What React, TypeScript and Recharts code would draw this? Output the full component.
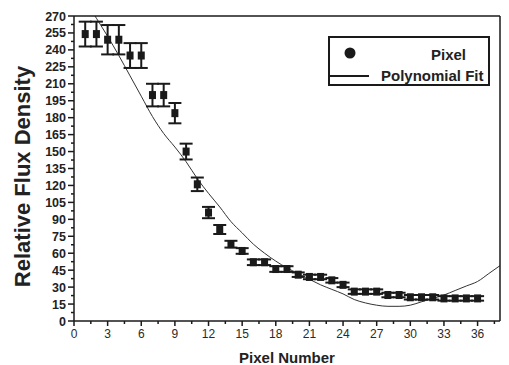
import { ComposedChart, ErrorBar, Legend, Line, Scatter, XAxis, YAxis } from 'recharts';

const pixelNumbers = [
  1, 2, 3, 4, 5, 6, 7, 8, 9, 10, 11, 12, 13, 14, 15, 16, 17, 18,
  19, 20, 21, 22, 23, 24, 25, 26, 27, 28, 29, 30, 31, 32, 33, 34, 35, 36,
];
const fluxValues = [
  254, 254, 249, 249, 235, 235, 200, 200, 184, 150, 121, 96, 81, 68, 62, 52, 52, 46,
  46, 41, 39, 39, 36, 32, 26, 26, 26, 23, 23, 21, 21, 21, 20, 20, 20, 20,
];
const fluxErrors = [
  11, 11, 13, 13, 11, 11, 10, 10, 9, 7, 6, 5, 4, 3, 2.5, 2.5, 2.5, 2.5,
  2.5, 2, 2, 2, 2, 2, 2, 2, 2, 2, 2, 2, 2, 2, 2, 2, 2, 2,
];
const fitPixels = [
  1, 2, 3, 4, 5, 6, 7, 8, 9, 10, 11, 12, 13, 14, 15, 16, 17, 18, 19,
  20, 21, 22, 23, 24, 25, 26, 27, 28, 29, 30, 31, 32, 33, 34, 35, 36, 37, 38,
];
const fitValues = [
  284, 268, 252, 235, 217, 199, 181, 166, 154, 141, 126, 113, 101, 88, 78, 68, 60, 53, 47,
  42, 37, 32, 28, 24, 19, 16, 14, 13, 13, 14, 17, 20, 23, 27, 31, 35, 42, 49,
];
const xTickLabels = [0, 3, 6, 9, 12, 15, 18, 21, 24, 27, 30, 33, 36, 39];
const yTickLabels = [0, 15, 30, 45, 60, 75, 90, 105, 120, 135, 150, 165, 180, 195, 210, 225, 240, 255, 270];

const pixelData = pixelNumbers.map((x, i) => ({ x, y: fluxValues[i], err: fluxErrors[i] }));
const fitData = fitPixels.map((x, i) => ({ x, fit: fitValues[i] }));

// major ticks plus a minor tick halfway between each pair
const withMinor = (major: number[]) => {
  const out: number[] = [];
  major.forEach((v, i) => {
    out.push(v);
    if (i < major.length - 1) out.push((v + major[i + 1]) / 2);
  });
  return out;
};
const xTicks = withMinor(xTickLabels);
const yTicks = withMinor(yTickLabels);

const INK = '#1a1a1a';
const FONT = '"Liberation Sans", Arial, sans-serif';

const isMajorX = (v: number) => xTickLabels.includes(v);
const isMajorY = (v: number) => yTickLabels.includes(v);

const BottomTick = ({ x, y, payload }: any) => {
  const major = isMajorX(payload.value);
  return (
    <g>
      <line x1={x} x2={x} y1={y} y2={y + (major ? 5 : 3)} stroke={INK} strokeWidth={1.5} />
      {major && (
        <text x={x} y={y + 17} textAnchor="middle" fontSize={12} fill="#2a2a2a" stroke="none" fontFamily={FONT}>
          {String(payload.value)}
        </text>
      )}
    </g>
  );
};

const TopTick = ({ x, y, payload }: any) => {
  const major = isMajorX(payload.value);
  return <line x1={x} x2={x} y1={y} y2={y + (major ? 4 : 2.5)} stroke={INK} strokeWidth={1.5} />;
};

const LeftTick = ({ x, y, payload }: any) => {
  const major = isMajorY(payload.value);
  return (
    <g>
      <line x1={x - (major ? 6 : 3)} x2={x} y1={y} y2={y} stroke={INK} strokeWidth={1.5} />
      {major && (
        <text x={x - 8} y={y + 4.5} textAnchor="end" fontSize={12.5} fontWeight="bold" fill="#222" stroke="none" fontFamily={FONT}>
          {String(payload.value)}
        </text>
      )}
    </g>
  );
};

const RightTick = ({ x, y, payload }: any) => {
  const major = isMajorY(payload.value);
  return <line x1={x} x2={x + (major ? 5 : 3)} y1={y} y2={y} stroke={INK} strokeWidth={1.5} />;
};

const YLabel = ({ viewBox }: any) => {
  const cx = viewBox.x + 14;
  const cy = viewBox.y + viewBox.height / 2 + 8;
  return (
    <text
      x={cx}
      y={cy}
      transform={`rotate(-90, ${cx}, ${cy})`}
      textAnchor="middle"
      dominantBaseline="central"
      fontSize={22}
      fontWeight="bold"
      fill="#222"
      fontFamily={FONT}
    >
      Relative Flux Density
    </text>
  );
};

const XLabel = ({ viewBox }: any) => (
  <text
    x={viewBox.x + viewBox.width / 2}
    y={viewBox.y + 42}
    textAnchor="middle"
    fontSize={15}
    fontWeight="bold"
    fill="#222"
    fontFamily={FONT}
  >
    Pixel Number
  </text>
);

const LegendBox = () => (
  <div
    style={{
      width: 158,
      height: 46,
      border: `2px solid ${INK}`,
      background: '#fff',
      position: 'relative',
      fontFamily: FONT,
      fontWeight: 'bold',
      fontSize: 15,
      color: '#222',
    }}
  >
    <svg width={158} height={46} style={{ position: 'absolute', left: 0, top: 0 }}>
      <circle cx={20} cy={15} r={5.5} fill={INK} />
      <line x1={0} x2={39} y1={38} y2={38} stroke={INK} strokeWidth={2} />
    </svg>
    <span style={{ position: 'absolute', left: 101, top: 8 }}>Pixel</span>
    <span style={{ position: 'absolute', left: 51, top: 29 }}>Polynomial Fit</span>
  </div>
);

const Square = ({ cx, cy }: any) => <rect x={cx - 3.5} y={cy - 4} width={7} height={8} fill={INK} />;

export default function App() {
  return (
    <ComposedChart
      width={501}
      height={357}
      margin={{ top: 7, right: 8, bottom: 0, left: 0 }}
      style={{ fontFamily: FONT, background: '#fff' }}
    >
      <XAxis
        xAxisId="bottom"
        type="number"
        dataKey="x"
        domain={[0, 38]}
        ticks={xTicks}
        interval={0}
        tickSize={0}
        tickMargin={0}
        tick={<BottomTick />}
        tickLine={false}
        axisLine={{ stroke: INK, strokeWidth: 1.5 }}
        height={44}
        label={<XLabel />}
      />
      <XAxis
        xAxisId="top"
        orientation="top"
        type="number"
        dataKey="x"
        domain={[0, 38]}
        ticks={xTicks}
        interval={0}
        tickSize={0}
        tickMargin={0}
        tick={<TopTick />}
        tickLine={false}
        axisLine={{ stroke: INK, strokeWidth: 1.5 }}
        height={1}
      />
      <YAxis
        yAxisId="left"
        type="number"
        domain={[0, 270]}
        allowDataOverflow
        ticks={yTicks}
        interval={0}
        tickSize={0}
        tickMargin={0}
        tick={<LeftTick />}
        tickLine={false}
        axisLine={{ stroke: INK, strokeWidth: 1.5 }}
        width={66}
        label={<YLabel />}
      />
      <YAxis
        yAxisId="right"
        orientation="right"
        type="number"
        domain={[0, 270]}
        ticks={yTicks}
        interval={0}
        tickSize={0}
        tickMargin={0}
        tick={<RightTick />}
        tickLine={false}
        axisLine={{ stroke: INK, strokeWidth: 1.5 }}
        width={1}
      />
      <Legend
        layout="vertical"
        verticalAlign="middle"
        align="center"
        content={<LegendBox />}
        wrapperStyle={{ left: 320, top: 28, width: 162 }}
      />
      <Line
        xAxisId="bottom"
        yAxisId="left"
        data={fitData}
        dataKey="fit"
        name="Polynomial Fit"
        type="monotone"
        stroke="#333"
        strokeWidth={1}
        dot={false}
        isAnimationActive={false}
      />
      <Scatter
        xAxisId="bottom"
        yAxisId="left"
        data={pixelData}
        dataKey="y"
        name="Pixel"
        shape={<Square />}
        isAnimationActive={false}
      >
        <ErrorBar dataKey="err" direction="y" width={6.5} stroke={INK} strokeWidth={2} />
      </Scatter>
    </ComposedChart>
  );
}
